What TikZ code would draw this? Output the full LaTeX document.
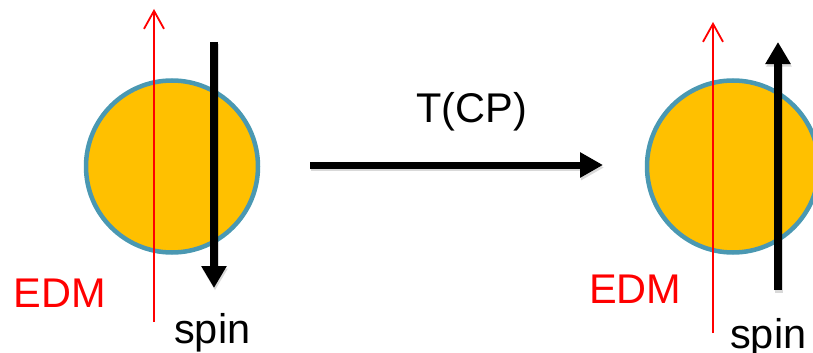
\documentclass[tikz,border=0pt]{standalone}
\usepackage{fontspec}
\setmainfont{Liberation Sans}
\usetikzlibrary{arrows.meta}

\definecolor{ballfill}{RGB}{255,192,0}
\definecolor{ballring}{RGB}{74,152,178}
\definecolor{edmred}{RGB}{255,0,0}

\tikzset{
  ball/.style={circle, draw=ballring, line width=4.5pt, fill=ballfill,
               minimum size=172pt, inner sep=0pt},
  edmarrow/.style={draw=edmred, line width=1.8pt,
                   -{Straight Barb[length=18pt,width=20pt]}},
  spinarrow/.style={draw=black, line width=8pt,
                    -{Triangle[length=22pt,width=24pt]}},
  maparrow/.style={draw=black, line width=7pt,
                   -{Triangle[length=23pt,width=24pt]}},
  shade/.style={draw=black, opacity=0.15},
  label/.style={inner sep=0pt, anchor=base west,
                font=\fontsize{41.5}{50}\selectfont},
}

\begin{document}
\begin{tikzpicture}[x=1pt, y=-1pt]
  \useasboundingbox (0,0) rectangle (813,353);
  \clip (0,0) rectangle (813,353);

  % particle before the transformation
  \node[ball] (L) at (172,166.5) {};
  \coordinate (Le0) at (154,322);
  \coordinate (Le1) at (154,9);
  \coordinate (Ls0) at (214,42);
  \coordinate (Ls1) at (214,288);
  \draw[edmarrow] (Le0) -- (Le1);
  \draw[spinarrow, shade, transform canvas={shift={(1pt,-2.5pt)}}] (Ls0) -- (Ls1);
  \draw[spinarrow] (Ls0) -- (Ls1);
  \node[label, text=edmred] (Ledm) at (13.5,307.5) {EDM};
  \node[label] (Lspin) at (174,343) {spin};

  % T(CP) mapping
  \coordinate (M0) at (310,165);
  \coordinate (M1) at (603,165);
  \draw[maparrow, shade, transform canvas={shift={(1pt,-2.5pt)}}] (M0) -- (M1);
  \draw[maparrow] (M0) -- (M1);
  \node[label] (Tcp) at (416,122) {T(CP)};

  % particle after the transformation
  \node[ball] (R) at (733,166.5) {};
  \coordinate (Re0) at (713,333);
  \coordinate (Re1) at (713,22);
  \coordinate (Rs0) at (778,290);
  \coordinate (Rs1) at (778,42);
  \draw[edmarrow] (Re0) -- (Re1);
  \draw[spinarrow, shade, transform canvas={shift={(1pt,-2.5pt)}}] (Rs0) -- (Rs1);
  \draw[spinarrow] (Rs0) -- (Rs1);
  \node[label, text=edmred] (Redm) at (589,303.5) {EDM};
  \node[label] (Rspin) at (730,348) {spin};
\end{tikzpicture}
\end{document}
